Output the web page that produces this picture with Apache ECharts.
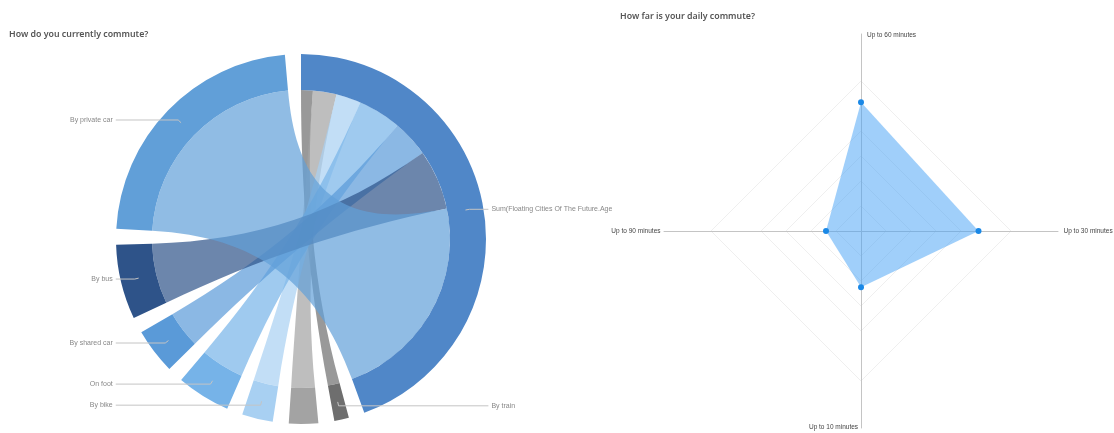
<!DOCTYPE html>
<html><head><meta charset="utf-8">
<script src="https://cdn.jsdelivr.net/npm/echarts@6/dist/echarts.min.js"></script>
<style>html,body{margin:0;padding:0;background:#fff}#c{width:1114px;height:433px}</style>
</head><body><div id="c"></div>
<script>
// ---- Chord data ----
const hubName = 'Sum(Floating Cities Of The Future.Age';
const hubColor = '#5087c8';
const modes = ['By train', 'Other', 'By bike', 'On foot', 'By shared car', 'By bus', 'By private car'];
const modeValues = [0.9, 1.8, 1.9, 3.3, 2.8, 4.6, 16];
const modeColors = ['#6e6e6e', '#a3a3a3', '#a8d0f2', '#76b3e8', '#5a9ad8', '#2e5389', '#619fd8'];
const modeLabelShown = [true, false, true, true, true, true, true];

// ---- Radar data ----
const radarNames = ['Up to 60 minutes', 'Up to 90 minutes', 'Up to 10 minutes', 'Up to 30 minutes'];
const radarValues = [10.3, 2.8, 4.5, 9.4];
const radarMax = 12;

const PAD = 5; // degrees between chord nodes
const hubTotal = modeValues.reduce((a, b) => a + b, 0);
const nodeCount = modes.length + 1;
// value-equivalent of one pad gap, so the label pie follows the chord's angles
const gapValue = PAD * (2 * hubTotal) / (360 - nodeCount * PAD);
const FONT = '"Liberation Sans", Arial, sans-serif';

const chart = echarts.init(document.getElementById('c'), null, { renderer: 'canvas' });

const nameRich = {
  'Up to 60 minutes': 't', 'Up to 90 minutes': 'l', 'Up to 10 minutes': 'b', 'Up to 30 minutes': 'r'
};

const gapItem = () => ({ name: '', value: gapValue, label: { show: false }, labelLine: { show: false } });
const pieData = [{ name: hubName, value: hubTotal }, gapItem()];
modes.forEach((m, i) => {
  pieData.push({ name: m, value: modeValues[i], label: { show: modeLabelShown[i] }, labelLine: { show: modeLabelShown[i] } });
  pieData.push(gapItem());
});

chart.setOption({
  backgroundColor: '#fff',
  animation: false,
  title: [
    { text: 'How do you currently commute?', left: 4, top: 25,
      textStyle: { fontSize: 8.8, fontWeight: 600, color: '#555', fontFamily: '"Noto Sans", sans-serif' } },
    { text: 'How far is your daily commute?', left: 615, top: 7,
      textStyle: { fontSize: 8.8, fontWeight: 600, color: '#555', fontFamily: '"Noto Sans", sans-serif' } }
  ],
  radar: [
    {
      center: [861, 231], radius: 197, startAngle: 90, shape: 'polygon', splitNumber: 1,
      indicator: radarNames.map(n => ({ name: n, max: radarMax })),
      axisLine: { lineStyle: { color: '#c4c4c4', width: 1 } },
      splitLine: { show: false }, splitArea: { show: false }, axisTick: { show: false },
      nameGap: -4.5,
      axisName: {
        color: '#444', fontSize: 6.5, fontFamily: FONT,
        formatter: (name) => '{' + nameRich[name] + '|' + name + '}',
        rich: {
          t: { padding: [0, 0, 0, 61], fontSize: 6.5, color: '#444', fontFamily: FONT },
          b: { padding: [0, 55, 0, 0], fontSize: 6.5, color: '#444', fontFamily: FONT },
          l: { padding: [0, 8, 0, 0], fontSize: 6.5, color: '#444', fontFamily: FONT },
          r: { padding: [0, 0, 0, 10], fontSize: 6.5, color: '#444', fontFamily: FONT }
        }
      }
    },
    {
      center: [861, 231], radius: 150, startAngle: 90, shape: 'polygon', splitNumber: 6,
      indicator: radarNames.map(n => ({ name: n, max: radarMax })),
      axisName: { show: false },
      axisLine: { show: false },
      splitArea: { show: false },
      splitLine: { lineStyle: { color: ['#efefef', '#efefef', '#efefef', '#efefef', '#efefef', 'rgba(0,0,0,0)'], width: 1 } }
    }
  ],
  series: [
    {
      type: 'chord',
      center: [301, 239],
      radius: [149, 185],
      startAngle: 90,
      clockwise: true,
      padAngle: PAD,
      label: { show: false },
      itemStyle: { borderWidth: 0, borderRadius: 0 },
      lineStyle: { color: 'source', opacity: 0.7 },
      data: [{ name: hubName, itemStyle: { color: hubColor } }].concat(
        modes.map((m, i) => ({ name: m, itemStyle: { color: modeColors[i] } }))),
      links: modes.map((m, i) => ({ source: m, target: hubName, value: modeValues[i] })),
      z: 1
    },
    {
      type: 'pie',
      left: 0, top: 0, width: 673, height: 433,
      center: [301, 239], radius: [0, 167],
      startAngle: 90, clockwise: true,
      silent: true,
      avoidLabelOverlap: true,
      itemStyle: { color: 'rgba(0,0,0,0)' },
      label: { show: true, fontSize: 7, color: '#888', fontFamily: FONT, alignTo: 'labelLine', edgeDistance: 40, distanceToLabelLine: 3 },
      labelLine: { show: true, length: 4, length2: 19, lineStyle: { color: '#c4c4c4', width: 1 } },
      data: pieData,
      z: 3
    },
    {
      type: 'radar',
      radarIndex: 1,
      symbol: 'circle', symbolSize: 6,
      itemStyle: { color: '#1a88e6' },
      lineStyle: { width: 0 },
      areaStyle: { color: 'rgba(66,160,245,0.5)', opacity: 1 },
      data: [{ value: radarValues }],
      z: 2
    }
  ]
});
</script></body></html>
